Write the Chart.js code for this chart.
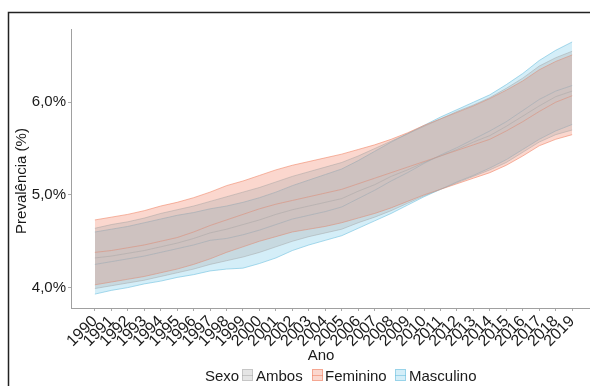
<!DOCTYPE html>
<html>
<head>
<meta charset="utf-8">
<title>Prevalência por sexo</title>
<script src="https://cdn.jsdelivr.net/npm/chart.js"></script>
<style>
  body { margin: 0; overflow: hidden; background: #fff; }
  #wrap { position: absolute; left: 0; top: 0; width: 610px; height: 386px; }
</style>
</head>
<body>
<div id="wrap"><canvas id="grafico" width="610" height="386"></canvas></div>
<script>
// anos e valores (%)
const anos = [1990, 1991, 1992, 1993, 1994, 1995, 1996, 1997, 1998, 1999,
              2000, 2001, 2002, 2003, 2004, 2005, 2006, 2007, 2008, 2009,
              2010, 2011, 2012, 2013, 2014, 2015, 2016, 2017, 2018, 2019];

const ambosSup = [4.64, 4.68, 4.71, 4.75, 4.80, 4.84, 4.88, 4.93, 4.98, 5.03,
                  5.08, 5.14, 5.20, 5.25, 5.30, 5.35, 5.42, 5.50, 5.58, 5.66,
                  5.74, 5.82, 5.90, 5.97, 6.05, 6.15, 6.26, 6.39, 6.48, 6.55];
const ambosMed = [4.32, 4.34, 4.37, 4.40, 4.44, 4.48, 4.53, 4.59, 4.63, 4.68,
                  4.73, 4.79, 4.84, 4.88, 4.92, 4.96, 5.04, 5.11, 5.20, 5.27,
                  5.35, 5.42, 5.49, 5.57, 5.64, 5.74, 5.85, 5.96, 6.06, 6.12];
const ambosInf = [3.99, 4.02, 4.05, 4.08, 4.12, 4.16, 4.20, 4.25, 4.29, 4.33,
                  4.38, 4.44, 4.50, 4.55, 4.59, 4.63, 4.70, 4.76, 4.83, 4.91,
                  4.99, 5.06, 5.13, 5.20, 5.27, 5.35, 5.46, 5.57, 5.65, 5.70];

const femSup = [4.73, 4.76, 4.79, 4.83, 4.88, 4.92, 4.97, 5.03, 5.10, 5.15,
                5.21, 5.27, 5.32, 5.36, 5.40, 5.44, 5.49, 5.54, 5.60, 5.67,
                5.75, 5.82, 5.89, 5.96, 6.04, 6.13, 6.23, 6.35, 6.44, 6.51];
const femMed = [4.38, 4.40, 4.43, 4.46, 4.50, 4.54, 4.60, 4.67, 4.73, 4.79,
                4.85, 4.90, 4.94, 4.98, 5.02, 5.06, 5.12, 5.18, 5.24, 5.30,
                5.36, 5.42, 5.48, 5.54, 5.60, 5.69, 5.79, 5.90, 6.00, 6.07];
const femInf = [4.03, 4.06, 4.09, 4.12, 4.16, 4.20, 4.25, 4.31, 4.38, 4.44,
                4.50, 4.55, 4.60, 4.63, 4.66, 4.70, 4.75, 4.80, 4.86, 4.93,
                5.00, 5.06, 5.12, 5.18, 5.24, 5.32, 5.42, 5.53, 5.60, 5.65];

const mascSup = [4.60, 4.63, 4.66, 4.70, 4.74, 4.78, 4.81, 4.85, 4.88, 4.92,
                 4.97, 5.03, 5.10, 5.16, 5.22, 5.28, 5.37, 5.47, 5.57, 5.66,
                 5.75, 5.84, 5.92, 6.00, 6.08, 6.19, 6.31, 6.45, 6.56, 6.65];
const mascMed = [4.25, 4.28, 4.31, 4.34, 4.38, 4.42, 4.46, 4.51, 4.53, 4.57,
                 4.62, 4.68, 4.74, 4.78, 4.82, 4.87, 4.96, 5.05, 5.15, 5.24,
                 5.34, 5.43, 5.51, 5.60, 5.69, 5.79, 5.91, 6.03, 6.12, 6.18];
const mascInf = [3.93, 3.97, 4.00, 4.04, 4.07, 4.11, 4.14, 4.18, 4.20, 4.21,
                 4.26, 4.32, 4.40, 4.46, 4.51, 4.56, 4.64, 4.72, 4.80, 4.89,
                 4.98, 5.06, 5.14, 5.21, 5.29, 5.38, 5.49, 5.60, 5.69, 5.76];

const yTicks = [4, 5, 6];
const yRotulos = ['4,0%', '5,0%', '6,0%'];
const sexos = ['Ambos', 'Feminino', 'Masculino'];

const cores = {
  Ambos:     { fill: 'rgba(170,170,170,0.30)', line: 'rgba(160,160,160,0.45)' },
  Feminino:  { fill: 'rgba(244,132,102,0.32)', line: 'rgba(240,135,105,0.6)' },
  Masculino: { fill: 'rgba(122,202,232,0.32)', line: 'rgba(112,192,222,0.6)' }
};

const pontos = arr => anos.map((a, i) => ({ x: a, y: arr[i] }));
const fonte = { family: 'Liberation Sans, Arial, sans-serif', size: 15 };

const series = [
  ['Ambos', ambosSup, ambosMed, ambosInf],
  ['Feminino', femSup, femMed, femInf],
  ['Masculino', mascSup, mascMed, mascInf]
];

const datasets = [];
series.forEach(([nome, sup, med, inf]) => {
  const base = datasets.length;
  const c = cores[nome];
  datasets.push({ label: nome + ' sup', data: pontos(sup), borderColor: c.line,
                  backgroundColor: c.fill, fill: { target: base + 2 } });
  datasets.push({ label: nome, data: pontos(med), borderColor: c.line, fill: false });
  datasets.push({ label: nome + ' inf', data: pontos(inf), borderColor: c.line, fill: false });
});
datasets.forEach(d => { d.borderWidth = 1; d.pointRadius = 0; d.tension = 0; });

// bordas, títulos e legenda no estilo do ggplot
const extras = {
  id: 'extras',
  afterDraw(chart) {
    const ctx = chart.ctx;
    ctx.save();
    ctx.strokeStyle = '#222';
    ctx.lineWidth = 1.5;
    ctx.beginPath();
    ctx.moveTo(8.5, 400);
    ctx.lineTo(8.5, 12.5);
    ctx.lineTo(620, 12.5);
    ctx.stroke();

    ctx.fillStyle = '#1a1a1a';
    ctx.font = '15px ' + fonte.family;
    ctx.textBaseline = 'alphabetic';

    ctx.save();
    ctx.translate(26, 181);
    ctx.rotate(-Math.PI / 2);
    ctx.textAlign = 'center';
    ctx.fillText('Prevalência (%)', 0, 0);
    ctx.restore();

    ctx.textAlign = 'center';
    ctx.fillText('Ano', 321, 360);

    ctx.textAlign = 'left';
    ctx.fillText('Sexo', 205, 381);
    const chaves = [[242, 256], [312, 325], [395, 409]];
    sexos.forEach((s, i) => {
      const [kx, tx] = chaves[i];
      const c = cores[s];
      ctx.fillStyle = c.fill;
      ctx.fillRect(kx, 369, 11, 12);
      ctx.strokeStyle = c.line;
      ctx.lineWidth = 1;
      ctx.strokeRect(kx + 0.5, 369.5, 10, 11);
      ctx.beginPath();
      ctx.moveTo(kx, 375.5);
      ctx.lineTo(kx + 11, 375.5);
      ctx.stroke();
      ctx.fillStyle = '#1a1a1a';
      ctx.fillText(s, tx, 381);
    });
    ctx.restore();
  }
};

new Chart(document.getElementById('grafico'), {
  type: 'line',
  data: { datasets },
  plugins: [extras],
  options: {
    responsive: false,
    animation: false,
    layout: { padding: { top: 29, right: 14, left: 0, bottom: 0 } },
    plugins: { legend: { display: false }, tooltip: { enabled: false },
               filler: { propagate: false } },
    scales: {
      x: {
        type: 'linear', min: 1988.55, max: 2020.45,
        afterBuildTicks: s => { s.ticks = anos.map(v => ({ value: v })); },
        afterFit: s => { s.height = 78; },
        ticks: { callback: v => String(v), autoSkip: false, minRotation: 45, maxRotation: 45,
                 font: { family: fonte.family, size: 16 }, color: '#1a1a1a', padding: 1 },
        grid: { drawOnChartArea: false, tickLength: 3, color: '#aaa' },
        border: { color: '#a0a0a0', width: 1 }
      },
      y: {
        min: 3.78, max: 6.79,
        afterBuildTicks: s => { s.ticks = yTicks.map(v => ({ value: v })); },
        afterFit: s => { s.width = 71; },
        ticks: { callback: (v, i) => yRotulos[i], font: fonte, color: '#1a1a1a', padding: 2 },
        grid: { drawOnChartArea: false, tickLength: 3, color: '#aaa' },
        border: { color: '#a0a0a0', width: 1 }
      }
    }
  }
});
</script>
</body>
</html>
